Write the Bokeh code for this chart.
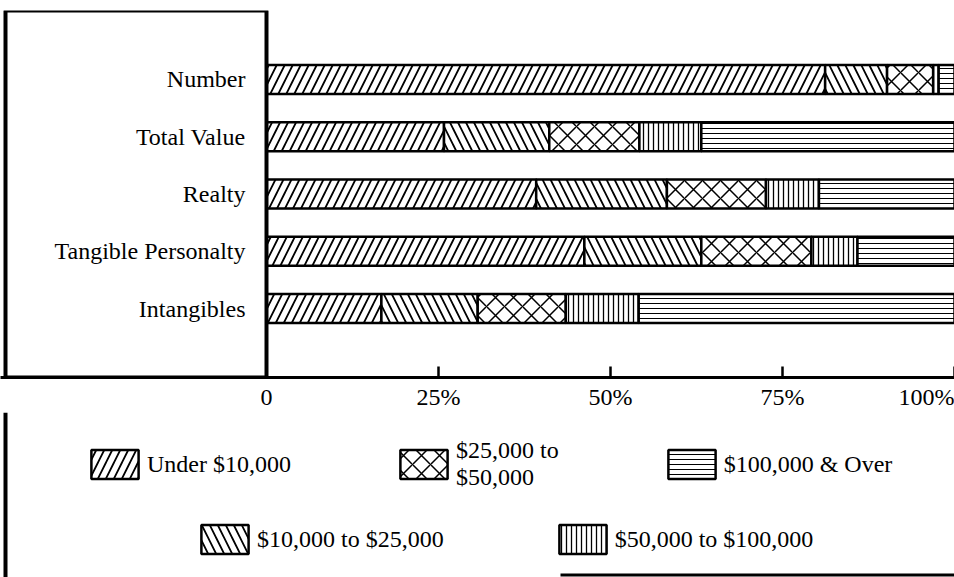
from bokeh.plotting import figure
from bokeh.layouts import column
from bokeh.models import (FactorRange, Range1d, FixedTicker, BoxAnnotation,
                          Legend, LegendItem, ColumnDataSource)
from bokeh.core.properties import value
from bokeh.embed import file_html
from bokeh.resources import INLINE

# ---------------- data (percent of each total) ----------------
categories = ["Number", "Total Value", "Realty", "Tangible Personalty", "Intangibles"]
brackets = ["Under $10,000", "$10,000 to $25,000", "$25,000 to $50,000",
            "$50,000 to $100,000", "$100,000 & Over"]
under_10k = [81.2, 25.8, 39.2, 46.2, 16.7]
k10_to_25 = [9.0, 15.3, 19.0, 17.0, 14.0]
k25_to_50 = [6.7, 13.1, 14.4, 16.0, 12.8]
k50_to_100 = [0.8, 9.0, 7.7, 6.7, 10.6]
over_100k = [2.3, 36.8, 19.7, 14.1, 45.9]
x_ticks = [0, 25, 50, 75, 100]
tick_labels = ["0", "25%", "50%", "75%", "100%"]

series = [under_10k, k10_to_25, k25_to_50, k50_to_100, over_100k]

# ---------------- styling ----------------
FONT = "Liberation Serif"
hatches = ["/", "\\", "x", "|", "-"]
hatch_scales = [16, 16, 18, 5, 5]
hatch_weights = [1.8, 1.8, 1.5, 1.3, 1.0]

W = 954
H_TOP, H_BOT = 412, 165
ZERO_PX = 266                      # canvas px where 0 % sits
scale = (W - ZERO_PX) / x_ticks[-1]
x_start = -ZERO_PX / scale
LINE_X0, LINE_X1 = 3, 7            # outer left rule of the figure box

y_range = FactorRange(*reversed(categories), range_padding=0.705,
                      range_padding_units="absolute")

p = figure(width=W, height=H_TOP,
           x_range=Range1d(x_start, x_ticks[-1]), y_range=y_range,
           output_backend="svg", toolbar_location=None,
           min_border_left=0, min_border_right=0, min_border_top=10,
           min_border_bottom=0)
p.outline_line_color = None
p.xgrid.visible = False
p.ygrid.visible = False
p.yaxis.visible = False

# stacked bars
sources = []
lefts = [0.0] * len(categories)
for vals in series:
    rights = [l + v for l, v in zip(lefts, vals)]
    sources.append(ColumnDataSource(dict(y=categories, left=lefts, right=rights)))
    lefts = rights

def bar_kw(i):
    return dict(y="y", left="left", right="right", height=0.51, source=sources[i],
                fill_color="white", line_color="black", line_width=2.5,
                hatch_pattern=hatches[i], hatch_color="black",
                hatch_scale=hatch_scales[i], hatch_weight=hatch_weights[i])

for i in range(len(series)):
    p.hbar(**bar_kw(i))

# category labels (left cell)
lab_src = ColumnDataSource(dict(x=[x_ticks[0]] * len(categories), y=categories, t=categories))
p.text(x="x", y="y", text="t", source=lab_src, x_offset=-21,
       text_align="right", text_baseline="middle", text_color="black",
       text_font=value(FONT), text_font_size="24px")

# box around the label cell (left rule, top rule, rule at 0)
p.add_layout(BoxAnnotation(left=(LINE_X0 + LINE_X1) / 2, left_units="canvas",
                           right=x_ticks[0], fill_alpha=0, line_color="black",
                           line_alpha=1, line_width=4))

# x axis
ax = p.xaxis[0]
ax.ticker = FixedTicker(ticks=x_ticks)
ax.major_label_overrides = dict(zip(x_ticks, tick_labels))
ax.axis_line_width = 3
ax.axis_line_color = "black"
ax.major_tick_in = 11
ax.major_tick_out = 0
ax.major_tick_line_width = 2.5
ax.minor_tick_line_color = None
ax.major_label_standoff = 6
ax.major_label_text_font = FONT
ax.major_label_text_font_size = "24px"
ax.major_label_text_color = "black"

# ---------------- legend panel ----------------
q = figure(width=W, height=H_BOT, x_range=Range1d(0, 1), y_range=FactorRange(*categories),
           output_backend="svg", toolbar_location=None,
           min_border_left=0, min_border_right=0, min_border_top=0,
           min_border_bottom=0)
q.outline_line_color = None
q.xgrid.visible = False
q.ygrid.visible = False
q.xaxis.visible = False
q.yaxis.visible = False
# renderers that only supply the legend swatches (not drawn themselves)
legend_renderers = [q.hbar(visible=False, **bar_kw(i)) for i in range(len(series))]

# left rule and the (partial) bottom rule of the legend cell
q.add_layout(BoxAnnotation(left=LINE_X0, right=LINE_X1, top=0, bottom=H_BOT,
                           left_units="canvas", right_units="canvas",
                           top_units="canvas", bottom_units="canvas",
                           fill_color="black", fill_alpha=1, line_alpha=0))
q.add_layout(BoxAnnotation(left=560, right=W, top=H_BOT - 4, bottom=H_BOT - 1,
                           left_units="canvas", right_units="canvas",
                           top_units="canvas", bottom_units="canvas",
                           fill_color="black", fill_alpha=1, line_alpha=0))

labels = list(brackets)
labels[2] = labels[2].replace(" to ", " to\n")

def make_legend(idx, loc, spacing):
    return Legend(items=[LegendItem(label=labels[i], renderers=[legend_renderers[i]]) for i in idx],
                  orientation="horizontal", location=loc, margin=0, padding=4,
                  spacing=spacing, glyph_width=59, glyph_height=36, label_standoff=3,
                  label_text_font=FONT, label_text_font_size="24px",
                  label_text_line_height=0.8, label_text_color="black",
                  border_line_color=None, background_fill_alpha=0,
                  click_policy="none", inactive_fill_alpha=0)

q.add_layout(make_legend([0, 2, 4], (85, 86), 103))
q.add_layout(make_legend([1, 3], (195, 20), 109))

layout = column(p, q, spacing=0)
open("out.html", "w").write(file_html(layout, INLINE))
